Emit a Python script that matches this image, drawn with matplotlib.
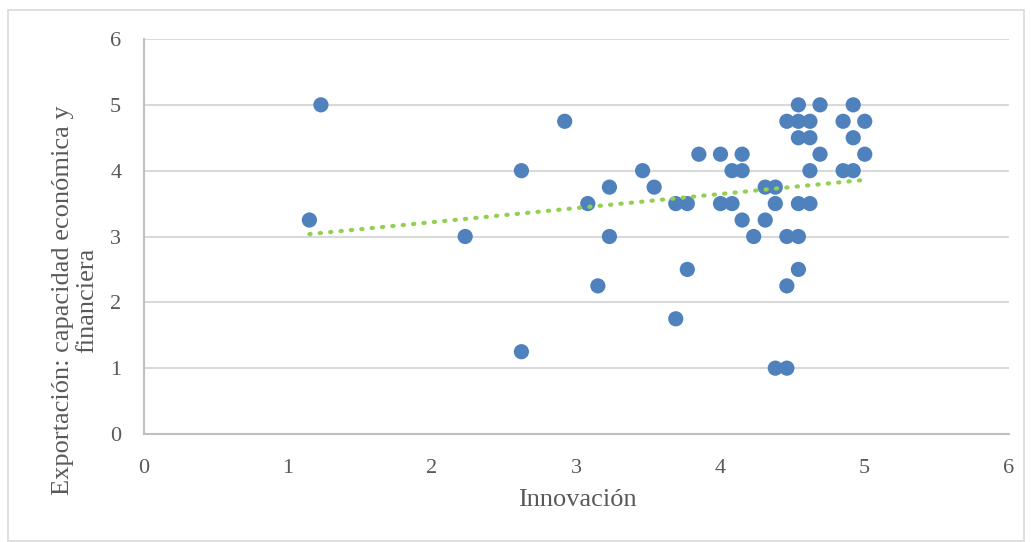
import numpy as np
import matplotlib
matplotlib.use("Agg")
import matplotlib.pyplot as plt
from matplotlib.patches import Rectangle

plt.rcParams['font.family'] = ['Liberation Serif', 'DejaVu Serif']

innovacion = [1.15, 1.23, 2.23, 2.62, 2.62, 2.92, 3.08, 3.15, 3.23, 3.23,
              3.46, 3.54, 3.69, 3.69, 3.77, 3.77, 3.85, 4.00, 4.00, 4.08,
              4.08, 4.15, 4.15, 4.15, 4.23, 4.31, 4.31, 4.38, 4.38, 4.38,
              4.46, 4.46, 4.46, 4.46, 4.54, 4.54, 4.54, 4.54, 4.54, 4.54,
              4.62, 4.62, 4.62, 4.62, 4.69, 4.69, 4.85, 4.85, 4.92, 4.92,
              4.92, 5.00, 5.00]
exportacion = [3.25, 5.00, 3.00, 4.00, 1.25, 4.75, 3.50, 2.25, 3.75, 3.00,
               4.00, 3.75, 3.50, 1.75, 3.50, 2.50, 4.25, 4.25, 3.50, 4.00,
               3.50, 4.25, 4.00, 3.25, 3.00, 3.75, 3.25, 3.75, 3.50, 1.00,
               4.75, 3.00, 2.25, 1.00, 5.00, 4.75, 4.50, 3.50, 3.00, 2.50,
               4.75, 4.50, 4.00, 3.50, 5.00, 4.25, 4.75, 4.00, 5.00, 4.50,
               4.00, 4.75, 4.25]
x_ticks = [0, 1, 2, 3, 4, 5, 6]
y_ticks = [0, 1, 2, 3, 4, 5, 6]
x_label = "Innovación"
y_label = "Exportación: capacidad económica y\nfinanciera"

W, H = 1031, 542
fig = plt.figure(figsize=(W / 100, H / 100), dpi=100)

# outer chart border
fig.patches.append(Rectangle((8 / W, 1 / H), (1024 - 8) / W, (532 - 1) / H,
                             transform=fig.transFigure, fill=False,
                             edgecolor='#d9d9d9', linewidth=1.2))

l, r, t, b = 143.5, 1009, 39, 434
ax = fig.add_axes([l / W, (H - b) / H, (r - l) / W, (b - t) / H])

ax.scatter(innovacion, exportacion, s=120, color='#4F81BD', edgecolors='none', zorder=3)

x = np.array(innovacion)
y = np.array(exportacion)
m, c = np.polyfit(x, y, 1)
xs = np.array([x.min(), x.max()])
ax.plot(xs, m * xs + c, color='#92D050', linewidth=3, linestyle=(0, (0.3, 2.2)),
        dash_capstyle='round', zorder=4)

ax.set_xlim(0, 6)
ax.set_ylim(0, 6)
ax.set_xticks(x_ticks)
ax.set_yticks(y_ticks)
ax.tick_params(length=0, labelsize=16, colors='#595959')
ax.tick_params(axis='x', pad=18)
ax.tick_params(axis='y', pad=16)
ax.yaxis.grid(True, color='#d9d9d9', linewidth=1.5)
ax.set_axisbelow(True)
for s in ['top', 'right']:
    ax.spines[s].set_visible(False)
for s in ['left', 'bottom']:
    ax.spines[s].set_color('#bfbfbf')
    ax.spines[s].set_linewidth(1.5)

fig.text(577 / W, 1 - 500 / H, x_label, ha='center', va='center',
         fontsize=19, color='#595959')
fig.text(75 / W, 1 - 300 / H, y_label, ha='center', va='center',
         rotation=90, fontsize=19, color='#595959', multialignment='center',
         linespacing=1.15)

fig.savefig("out.png", dpi=100)
